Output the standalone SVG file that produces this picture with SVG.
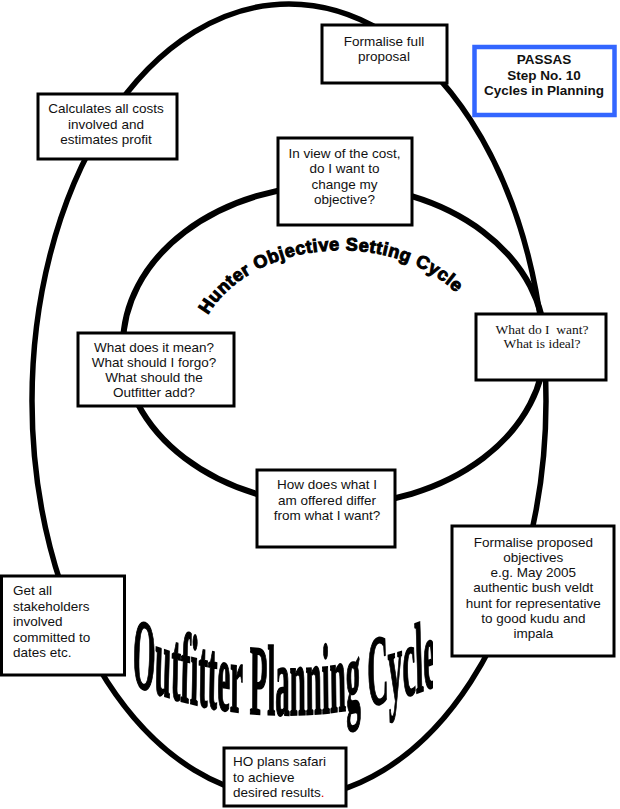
<svg xmlns="http://www.w3.org/2000/svg" width="620" height="809" viewBox="0 0 620 809">
<style>
.box{fill:#fff;stroke:#000;stroke-width:3}
.t{font-family:"Liberation Sans",Arial,sans-serif;font-size:13.5px;fill:#111;text-anchor:middle}
.tl{text-anchor:start}
.ser{font-family:"Liberation Serif","Times New Roman",serif}
.ring{fill:none;stroke:#000}
</style>
<defs>
<path id="hunterArc" d="M 208 315 A 145 108 0 0 1 463 300"/>
<path id="outfitArc" d="M 455 684 A 1372 398 0 0 0 1517 684"/>
<clipPath id="wordClip"><rect x="0" y="560" width="433" height="200"/></clipPath>
</defs>
<rect width="620" height="809" fill="#fff"/>
<g id="connectors">
<ellipse class="ring" cx="289" cy="401" rx="257" ry="397" stroke-width="5.5"/>
<ellipse class="ring" cx="334" cy="345" rx="211" ry="160" stroke-width="6"/>
</g>
<g id="cycle-labels">
<text font-family="'Liberation Sans',Arial,sans-serif" font-weight="bold" font-size="18" fill="#000" stroke="#000" stroke-width="1"><textPath href="#hunterArc" textLength="280" lengthAdjust="spacing">Hunter Objective Setting Cycle</textPath></text>
<g clip-path="url(#wordClip)">
<text transform="scale(0.29,1)" font-family="'Liberation Serif','Times New Roman',serif" font-weight="bold" font-size="100" fill="#000" stroke="#000" stroke-width="2"><textPath href="#outfitArc">Outfitter Planning Cycle</textPath></text>
</g>
</g>
<g id="formalise-full">
<rect class="box" x="322" y="25" width="125" height="58"/>
<text class="t" x="384" y="46">Formalise full</text>
<text class="t" x="384" y="61">proposal</text>
</g>
<g id="passas">
<rect x="474.5" y="47" width="140" height="68" fill="#fff" stroke="#3366FF" stroke-width="4.5"/>
<text class="t" x="544" y="64" font-weight="bold" font-size="13px">PASSAS</text>
<text class="t" x="544" y="79.5" font-weight="bold" font-size="13px">Step No. 10</text>
<text class="t" x="544" y="95" font-weight="bold" font-size="13px">Cycles in Planning</text>
</g>
<g id="calculates">
<rect class="box" x="38" y="94" width="139" height="65"/>
<text class="t" x="106" y="113">Calculates all costs</text>
<text class="t" x="106" y="128.5">involved and</text>
<text class="t" x="106" y="144">estimates profit</text>
</g>
<g id="in-view">
<rect class="box" x="278" y="138" width="134" height="87"/>
<text class="t" x="344.5" y="157.5">In view of the cost,</text>
<text class="t" x="344.5" y="173">do I want to</text>
<text class="t" x="344.5" y="188.5">change my</text>
<text class="t" x="344.5" y="204">objective?</text>
</g>
<g id="what-want">
<rect class="box" x="476" y="314" width="130" height="66"/>
<text class="t ser" x="542" y="333.5" xml:space="preserve">What do I  want?</text>
<text class="t ser" x="542" y="348">What is ideal?</text>
</g>
<g id="what-mean">
<rect class="box" x="78" y="333" width="156" height="73"/>
<text class="t" x="154" y="351.7">What does it mean?</text>
<text class="t" x="154" y="366.9">What should I forgo?</text>
<text class="t" x="154" y="382.1">What should the</text>
<text class="t" x="154" y="397.3">Outfitter add?</text>
</g>
<g id="how-differ">
<rect class="box" x="257" y="470" width="138" height="77"/>
<text class="t" x="327" y="489">How does what I</text>
<text class="t" x="327" y="504.5">am offered differ</text>
<text class="t" x="327" y="520">from what I want?</text>
</g>
<g id="formalise-objectives">
<rect class="box" x="452" y="526" width="162" height="130"/>
<text class="t" x="533.3" y="546.5">Formalise proposed</text>
<text class="t" x="533.3" y="561.8">objectives</text>
<text class="t" x="533.3" y="577.1">e.g. May 2005</text>
<text class="t" x="533.3" y="592.4">authentic bush veldt</text>
<text class="t" x="533.3" y="607.7">hunt for representative</text>
<text class="t" x="533.3" y="623">to good kudu and</text>
<text class="t" x="533.3" y="638.3">impala</text>
</g>
<g id="stakeholders">
<rect class="box" x="1.5" y="576" width="123" height="99"/>
<text class="t tl" x="13" y="595">Get all</text>
<text class="t tl" x="13" y="610.5">stakeholders</text>
<text class="t tl" x="13" y="626">involved</text>
<text class="t tl" x="13" y="641.5">committed to</text>
<text class="t tl" x="13" y="657">dates etc.</text>
</g>
<g id="ho-plans">
<rect class="box" x="224" y="748" width="122" height="58"/>
<text class="t tl" x="233" y="766">HO plans safari</text>
<text class="t tl" x="233" y="782">to achieve</text>
<text class="t tl" x="233" y="797">desired results<tspan fill="#e00000">.</tspan></text>
</g>
</svg>
